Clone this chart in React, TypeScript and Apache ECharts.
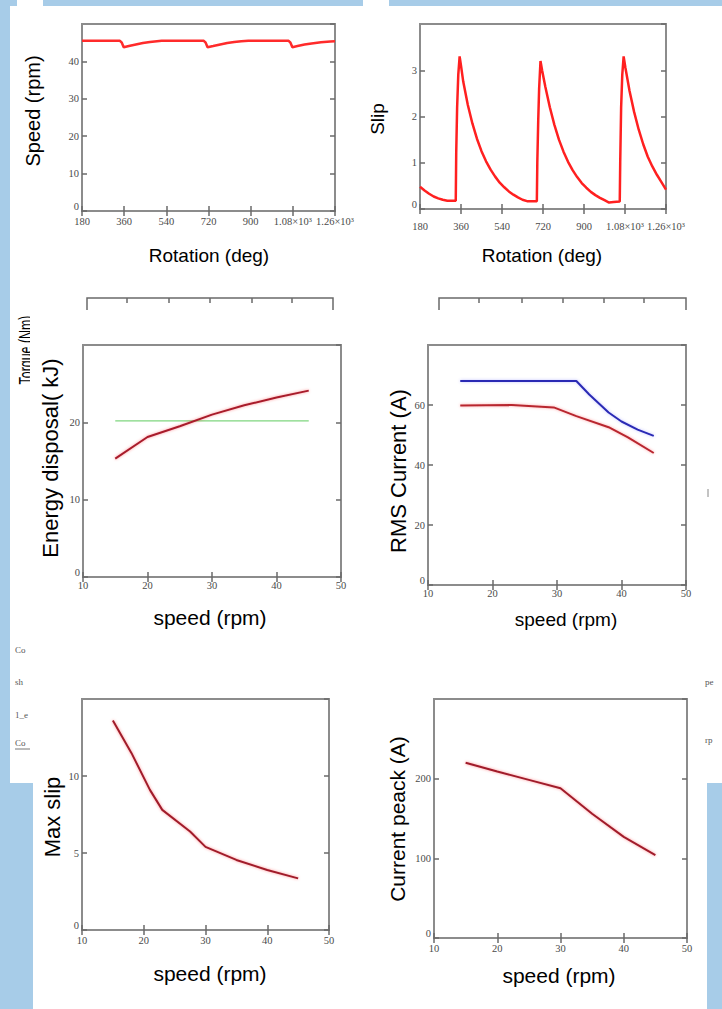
import React, { useEffect, useRef } from 'react';
import * as echarts from 'echarts';

// ---------- data ----------
const ROT_RANGE = [180, 1260];
const ROT_STEP = 180;
const SPEED_RANGE = [10, 50];
const SPEED_STEP = 10;

const SPEED_ROT_DEG = [180, 342, 350, 358, 380, 410, 440, 470, 500, 520, 700, 708, 716, 740, 770, 800, 830, 860, 890, 1062, 1070, 1078, 1100, 1130, 1160, 1200, 1240, 1260];
const SPEED_RPM = [45.5, 45.5, 45.0, 43.8, 44.1, 44.5, 44.9, 45.2, 45.4, 45.5, 45.5, 45.0, 43.8, 44.1, 44.5, 44.9, 45.2, 45.4, 45.5, 45.5, 45.0, 43.8, 44.1, 44.5, 44.8, 45.1, 45.3, 45.4];

const SLIP_DEG = [180, 200, 220, 240, 260, 280, 300, 337, 339, 343, 348, 354, 360, 370, 390, 410, 430, 450, 470, 490, 510, 530, 550, 570, 590, 610, 630, 650, 693,
  695, 699, 703, 709, 716, 730, 750, 770, 790, 810, 830, 850, 870, 890, 910, 930, 950, 970, 990, 1010, 1030, 1057,
  1059, 1063, 1068, 1074, 1082, 1100, 1120, 1140, 1160, 1180, 1200, 1220, 1240, 1260];
const SLIP_VAL = [0.48, 0.40, 0.33, 0.27, 0.23, 0.20, 0.18, 0.18, 1.2, 2.2, 2.9, 3.3, 3.1, 2.75, 2.25, 1.85, 1.52, 1.25, 1.03, 0.85, 0.70, 0.57, 0.47, 0.38, 0.31, 0.25, 0.20, 0.17, 0.17,
  1.0, 1.9, 2.6, 3.2, 3.0, 2.65, 2.2, 1.82, 1.5, 1.24, 1.02, 0.84, 0.69, 0.56, 0.46, 0.37, 0.30, 0.24, 0.19, 0.14, 0.15, 0.16,
  1.0, 2.2, 2.9, 3.3, 3.05, 2.55, 2.1, 1.72, 1.4, 1.13, 0.92, 0.74, 0.58, 0.42];

const ENERGY_SPEED = [15, 20, 25, 30, 35, 40, 45];
const ENERGY_KJ = [15.3, 18.1, 19.5, 21.0, 22.2, 23.2, 24.1];
const TORQUE_SPEED = [15, 45];
const TORQUE_NM = [20.2, 20.2];

const RMS_BLUE_SPEED = [15, 33, 35, 38, 40, 42.5, 45];
const RMS_BLUE = [68, 68, 63.5, 57.5, 54.5, 51.8, 49.7];
const RMS_RED_SPEED = [15, 23, 29.5, 33, 38, 41, 45];
const RMS_RED = [59.8, 60, 59.2, 56.3, 52.6, 49.2, 44];

const MAXSLIP_SPEED = [15, 18, 21, 23, 27.5, 30, 35, 40, 45];
const MAXSLIP = [13.6, 11.5, 9.1, 7.8, 6.4, 5.4, 4.55, 3.9, 3.35];

const PEAK_SPEED = [15, 20, 25, 30, 35, 40, 45];
const PEAK_A = [220, 209, 198.5, 188, 156, 127, 104];

// ---------- styling helpers ----------
const SERIF = '"Liberation Serif", "Times New Roman", serif';
const SANS = '"Liberation Sans", Arial, sans-serif';
const BLUE_BG = '#a7cce8';

const zip = (a: number[], b: number[]) => a.map((v, i) => [v, b[i]]);

const rotFmt = (v: number) => (v >= 1000 ? (v / 1000).toFixed(2) + '×10³' : String(v));
const yFmt = (v: number) => (v === 0 ? '{z|0}' : String(v));

type Panel = {
  left: number; top: number; width: number; height: number;
  x: number[]; xStep: number; y: number[]; yStep: number;
  xFmt?: (v: number) => string; xMargin: number;
};

const PANELS: Panel[] = [
  { left: 82, top: 24, width: 253, height: 187, x: ROT_RANGE, xStep: ROT_STEP, y: [0, 50], yStep: 10, xFmt: rotFmt, xMargin: 5 },
  { left: 420, top: 24, width: 246, height: 185, x: ROT_RANGE, xStep: ROT_STEP, y: [0, 4], yStep: 1, xFmt: rotFmt, xMargin: 12 },
  { left: 83, top: 345, width: 258, height: 232, x: SPEED_RANGE, xStep: SPEED_STEP, y: [0, 30], yStep: 10, xMargin: 3 },
  { left: 428, top: 345, width: 258, height: 240, x: SPEED_RANGE, xStep: SPEED_STEP, y: [0, 80], yStep: 20, xMargin: 3 },
  { left: 82, top: 699, width: 247, height: 231, x: SPEED_RANGE, xStep: SPEED_STEP, y: [0, 15], yStep: 5, xMargin: 5 },
  { left: 434, top: 699, width: 253, height: 239, x: SPEED_RANGE, xStep: SPEED_STEP, y: [0, 300], yStep: 100, xMargin: 5 },
];

function buildOption() {
  const grid: any[] = [];
  const xAxis: any[] = [];
  const yAxis: any[] = [];
  PANELS.forEach((p, i) => {
    grid.push({
      left: p.left, top: p.top, width: p.width, height: p.height,
      show: true, borderColor: '#8c8c8c', borderWidth: 2, backgroundColor: '#fff',
    });
    const tick = { show: true, inside: true, length: 5, lineStyle: { color: '#6a6a6a', width: 1.5 } };
    const base = { gridIndex: i, type: 'value', axisLine: { show: false }, splitLine: { show: false }, axisTick: tick };
    const lab = { fontFamily: SERIF, fontSize: 10.5, color: '#4a4a4a' };
    xAxis.push({ ...base, position: 'bottom', min: p.x[0], max: p.x[1], interval: p.xStep,
      axisLabel: { ...lab, margin: p.xMargin, formatter: p.xFmt || ((v: number) => String(v)) } });
    xAxis.push({ ...base, position: 'top', min: p.x[0], max: p.x[1], interval: p.xStep, axisLabel: { show: false } });
    yAxis.push({ ...base, position: 'left', min: p.y[0], max: p.y[1], interval: p.yStep,
      axisLabel: { ...lab, margin: 3, showMaxLabel: false, formatter: yFmt,
        rich: { z: { fontFamily: SERIF, fontSize: 10.5, color: '#4a4a4a', padding: [0, 0, 9, 0] } } } });
    yAxis.push({ ...base, position: 'right', min: p.y[0], max: p.y[1], interval: p.yStep, axisLabel: { show: false } });
  });

  const line = (i: number, data: number[][], color: string, width: number, glow?: string) => ({
    type: 'line', xAxisIndex: 2 * i, yAxisIndex: 2 * i, data, showSymbol: false, symbol: 'none',
    lineStyle: glow ? { color, width, shadowColor: glow, shadowBlur: 3 } : { color, width },
    silent: true, z: 3,
  });

  const series = [
    line(0, zip(SPEED_ROT_DEG, SPEED_RPM), '#ff2b2b', 2.5),
    line(1, zip(SLIP_DEG, SLIP_VAL), '#ff2020', 2.5),
    line(2, zip(TORQUE_SPEED, TORQUE_NM), '#7fd67f', 1.2),
    line(2, zip(ENERGY_SPEED, ENERGY_KJ), '#a81c2c', 2, 'rgba(255,0,0,0.4)'),
    line(3, zip(RMS_RED_SPEED, RMS_RED), '#b8262f', 2, 'rgba(255,0,0,0.35)'),
    line(3, zip(RMS_BLUE_SPEED, RMS_BLUE), '#2a2ab4', 2, 'rgba(80,80,255,0.35)'),
    line(4, zip(MAXSLIP_SPEED, MAXSLIP), '#a01c2a', 2, 'rgba(255,0,0,0.4)'),
    line(5, zip(PEAK_SPEED, PEAK_A), '#a01c2a', 2, 'rgba(255,0,0,0.4)'),
  ];

  const txt = (text: string, x: number, y: number, size: number, rot = 0, extra: any = {}) => ({
    type: 'text', x, y, rotation: rot, z: 20, silent: true, ...extra,
    style: { text, fontSize: size, fontFamily: SANS, fill: '#000',
      align: 'center', verticalAlign: 'middle', textAlign: 'center', textVerticalAlign: 'middle' },
  });
  const small = (text: string, x: number, y: number) => ({
    type: 'text', x, y, z: 20, silent: true,
    style: { text, fontSize: 9, fontFamily: SERIF, fill: '#555', align: 'left', verticalAlign: 'middle', textAlign: 'left', textVerticalAlign: 'middle' },
  });
  const R = Math.PI / 2;
  const blue = (x: number, y: number, w: number, h: number) => ({
    type: 'rect', z: 1, silent: true, shape: { x, y, width: w, height: h }, style: { fill: BLUE_BG },
  });
  const partialFrame = (x0: number, x1: number, ticks: number[]) => [
    { type: 'polyline', z: 5, silent: true, shape: { points: [[x0, 310], [x0, 298], [x1, 298], [x1, 310]] },
      style: { stroke: '#6a6a6a', lineWidth: 1.5, fill: null } },
    ...ticks.map((t) => ({ type: 'line', z: 5, silent: true, shape: { x1: t, y1: 298, x2: t, y2: 303 },
      style: { stroke: '#6a6a6a', lineWidth: 1.5 } })),
  ];

  const graphic = [
    blue(0, 0, 17, 6), blue(43, 0, 320, 6), blue(389, 0, 333, 6),
    blue(0, 0, 10, 783), blue(0, 783, 33, 226), blue(707, 783, 15, 226),
    ...partialFrame(87, 333, [127, 169, 210, 252, 292]),
    ...partialFrame(439, 686, [479, 522, 563, 604, 644]),
    // axis titles
    txt('Speed (rpm)', 33, 111, 20, R),
    txt('Rotation (deg)', 209, 255, 19),
    txt('Slip', 377, 119, 19, R),
    txt('Rotation (deg)', 542, 255, 19),
    { ...txt('Torque (Nm)', 26, 350, 20, R), z: 10, scaleX: 0.62 },
    { type: 'rect', z: 11, silent: true, shape: { x: 30, y: 310, width: 10, height: 82 }, style: { fill: '#fff' } },
    txt('Energy disposal( kJ)', 50, 458, 22, R),
    txt('speed (rpm)', 210, 617, 21),
    txt('RMS Current (A)', 398, 471, 22, R),
    txt('speed (rpm)', 566, 619, 19),
    txt('Max slip', 52, 817, 22, R),
    txt('speed (rpm)', 210, 973, 21),
    txt('Current peack (A)', 397, 819, 21, R),
    txt('speed (rpm)', 559, 975, 21),
    // cut-off worksheet fragments
    small('Co', 15, 650), small('sh', 15, 682), small('1_e', 15, 715), small('Co', 15, 743),
    { type: 'line', z: 20, silent: true, shape: { x1: 15, y1: 749, x2: 30, y2: 749 }, style: { stroke: '#777', lineWidth: 1 } },
    small('pe', 705, 682), small('rp', 705, 740),
    { type: 'line', z: 20, silent: true, shape: { x1: 708, y1: 489, x2: 708, y2: 497 }, style: { stroke: '#888', lineWidth: 1 } },
  ];

  return { animation: false, backgroundColor: '#fff', grid, xAxis, yAxis, series, graphic };
}

export default function App() {
  const ref = useRef<HTMLDivElement>(null);
  useEffect(() => {
    if (!ref.current) return;
    const chart = echarts.init(ref.current, undefined, { renderer: 'svg' });
    chart.setOption(buildOption() as any);
    return () => chart.dispose();
  }, []);
  return <div ref={ref} style={{ position: 'absolute', left: 0, top: 0, width: 722, height: 1009 }} />;
}
